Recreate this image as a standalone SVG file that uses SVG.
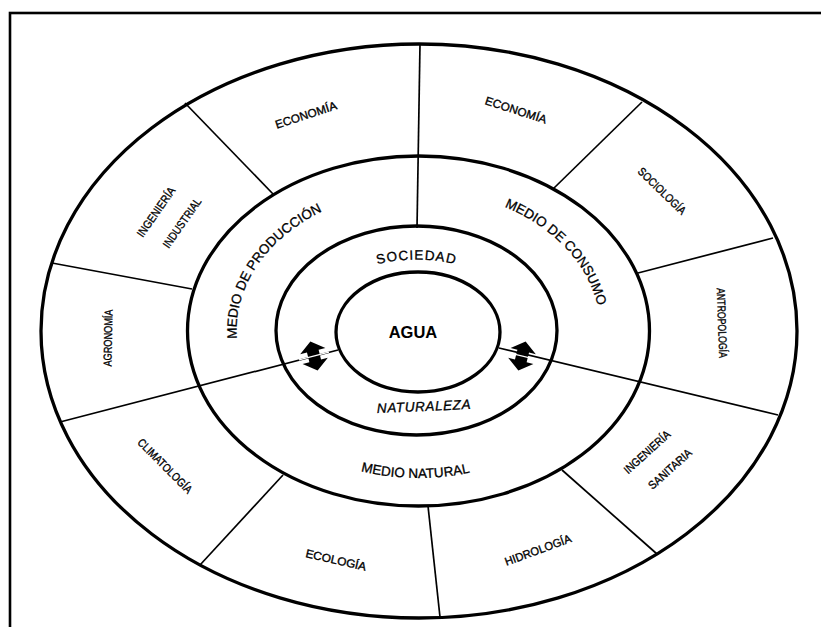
<svg xmlns="http://www.w3.org/2000/svg" width="821" height="627" viewBox="0 0 821 627">
  <style>
    .ring { fill: none; stroke: #000; stroke-width: 3.3; }
    .div { stroke: #000; stroke-width: 1.7; fill: none; }
    .lab { font-family: "Liberation Sans", Arial, sans-serif; font-size: 11.5px; fill: #000; stroke: #000; stroke-width: 0.35; text-anchor: middle; }
    .mid { font-family: "Liberation Sans", Arial, sans-serif; font-size: 13.5px; fill: #000; stroke: #000; stroke-width: 0.3; text-anchor: middle; }
    .core { font-family: "Liberation Sans", Arial, sans-serif; font-size: 16.5px; font-weight: bold; fill: #000; text-anchor: middle; }
    .arrow { fill: #000; }
  </style>
  <defs>
    <path id="pProd" d="M 238.3 350.6 A 182 141 0 0 1 333.1 206.5"/>
    <path id="pCons" d="M 480.7 198.5 A 182 141 0 0 1 600.5 331"/>
    <path id="pNat" d="M 320.1 457 A 191 147 0 0 0 511.1 459.6"/>
    <path id="pSoc" d="M 333.8 284.9 A 108 71 0 0 1 499.2 284.9"/>
    <path id="dblArrow" d="M 0 -15 L 13 -5 L 6 -5 L 6 5 L 13 5 L 0 15 L -13 5 L -6 5 L -6 -5 L -13 -5 Z"/>
  </defs>

  <rect x="0" y="0" width="821" height="627" fill="#fff"/>
  <!-- page frame -->
  <rect x="10" y="13" width="850" height="650" fill="none" stroke="#000" stroke-width="2.6"/>

  <!-- dividing lines -->
  <g id="connectors">
    <line class="div" x1="420" y1="44" x2="417" y2="228"/>
    <line class="div" x1="185" y1="103" x2="274" y2="195"/>
    <line class="div" x1="642" y1="102" x2="553" y2="189"/>
    <line class="div" x1="773" y1="238" x2="638" y2="273"/>
    <line class="div" x1="778" y1="415" x2="499" y2="348"/>
    <line class="div" x1="60" y1="422" x2="338" y2="350"/>
    <line class="div" x1="52" y1="263" x2="192" y2="289"/>
    <line class="div" x1="200" y1="565" x2="283" y2="475"/>
    <line class="div" x1="440" y1="617" x2="428" y2="506"/>
    <line class="div" x1="657" y1="554" x2="562" y2="470"/>
  </g>

  <!-- rings -->
  <g id="ring-outer"><ellipse class="ring" cx="419" cy="331" rx="378" ry="287"/></g>
  <g id="ring-medio"><ellipse class="ring" cx="418.5" cy="331" rx="231" ry="175"/></g>
  <g id="ring-inner"><ellipse class="ring" cx="416.5" cy="330.5" rx="140.5" ry="104.5"/></g>
  <g id="agua">
    <ellipse class="ring" cx="418" cy="332" rx="82" ry="60"/>
    <text class="core" x="413" y="338">AGUA</text>
  </g>

  <!-- exchange arrows -->
  <g id="arrow-left">
    <use href="#dblArrow" class="arrow" transform="translate(314 356) rotate(-14)"/>
    <line x1="299" y1="359.9" x2="329" y2="352.1" stroke="#fff" stroke-width="1.3"/>
  </g>
  <g id="arrow-right">
    <use href="#dblArrow" class="arrow" transform="translate(522 356) rotate(14)"/>
    <line x1="507" y1="352.4" x2="537" y2="359.6" stroke="#fff" stroke-width="1.3"/>
  </g>

  <!-- middle ring labels -->
  <g id="medio-produccion">
    <text class="mid"><textPath href="#pProd" startOffset="50%">MEDIO DE PRODUCCIÓN</textPath></text>
  </g>
  <g id="medio-consumo">
    <text class="mid"><textPath href="#pCons" startOffset="50%">MEDIO DE CONSUMO</textPath></text>
  </g>
  <g id="medio-natural">
    <text class="mid"><textPath href="#pNat" startOffset="50%">MEDIO NATURAL</textPath></text>
  </g>
  <g id="sociedad">
    <text class="mid" letter-spacing="1"><textPath href="#pSoc" startOffset="50%">SOCIEDAD</textPath></text>
  </g>
  <g id="naturaleza">
    <text class="mid" font-style="italic" letter-spacing="0.6" transform="rotate(-2.5 424 406)" x="424" y="411">NATURALEZA</text>
  </g>

  <!-- outer ring disciplines -->
  <g id="economia-1">
    <text class="lab" transform="translate(306 115) rotate(-18)" y="4" textLength="64" lengthAdjust="spacingAndGlyphs">ECONOMÍA</text>
  </g>
  <g id="economia-2">
    <text class="lab" transform="translate(516 110) rotate(18)" y="4" textLength="64" lengthAdjust="spacingAndGlyphs">ECONOMÍA</text>
  </g>
  <g id="sociologia">
    <text class="lab" transform="translate(662 191) rotate(44)" y="4" textLength="62" lengthAdjust="spacingAndGlyphs">SOCIOLOGÍA</text>
  </g>
  <g id="antropologia">
    <text class="lab" transform="translate(722 323) rotate(88)" y="4" textLength="70" lengthAdjust="spacingAndGlyphs">ANTROPOLOGÍA</text>
  </g>
  <g id="ingenieria-sanitaria">
    <text class="lab" transform="translate(647 452) rotate(-42)" y="4" textLength="58" lengthAdjust="spacingAndGlyphs">INGENIERÍA</text>
    <text class="lab" transform="translate(670 469) rotate(-42)" y="4" textLength="54" lengthAdjust="spacingAndGlyphs">SANITARIA</text>
  </g>
  <g id="hidrologia">
    <text class="lab" transform="translate(538 550) rotate(-20)" y="4" textLength="70" lengthAdjust="spacingAndGlyphs">HIDROLOGÍA</text>
  </g>
  <g id="ecologia">
    <text class="lab" transform="translate(336 560) rotate(13)" y="4" textLength="62" lengthAdjust="spacingAndGlyphs">ECOLOGÍA</text>
  </g>
  <g id="climatologia">
    <text class="lab" transform="translate(165 466) rotate(45)" y="4" textLength="72" lengthAdjust="spacingAndGlyphs">CLIMATOLOGÍA</text>
  </g>
  <g id="agronomia">
    <text class="lab" transform="translate(108 338) rotate(-89)" y="4" textLength="57" lengthAdjust="spacingAndGlyphs">AGRONOMÍA</text>
  </g>
  <g id="ingenieria-industrial">
    <text class="lab" transform="translate(156 212) rotate(-55)" y="4" textLength="58" lengthAdjust="spacingAndGlyphs">INGENIERÍA</text>
    <text class="lab" transform="translate(182 223) rotate(-55)" y="4" textLength="58" lengthAdjust="spacingAndGlyphs">INDUSTRIAL</text>
  </g>
</svg>
